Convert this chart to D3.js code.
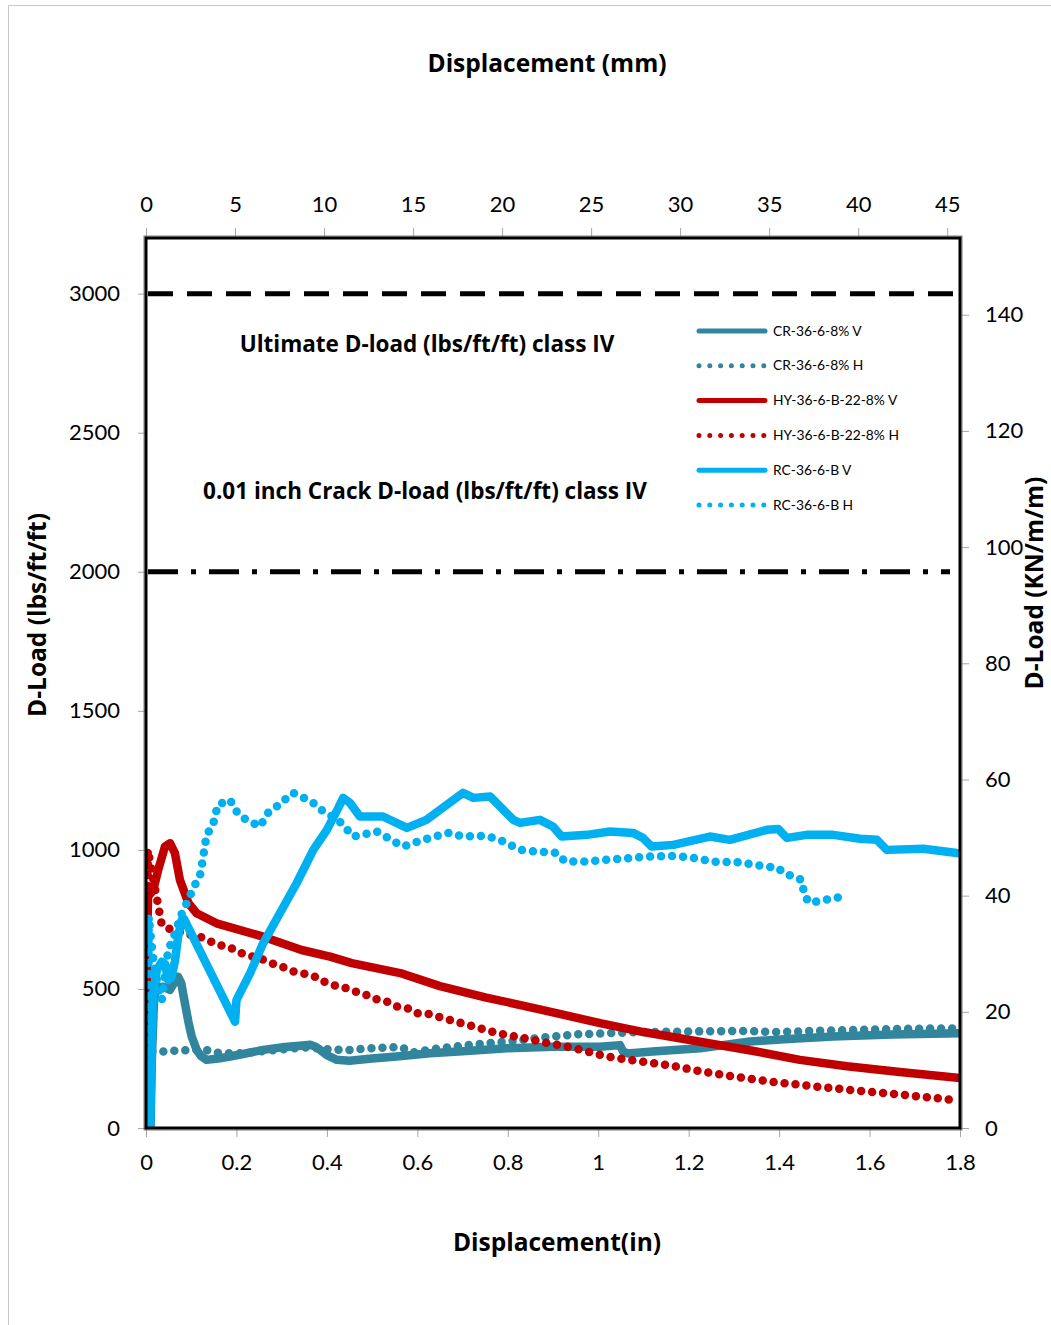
<!DOCTYPE html>
<html>
<head>
<meta charset="utf-8">
<script src="https://cdn.jsdelivr.net/npm/d3@7/dist/d3.min.js"></script>
<style>
  html, body { margin: 0; padding: 0; background: #fff; }
  svg { display: block; }
  text { font-family: Lato, "Open Sans", "DejaVu Sans", sans-serif; fill: #000; }
  .title { font-family: "Open Sans", Lato, sans-serif; font-weight: bold; }
</style>
</head>
<body>
<svg id="chart" width="1051" height="1325"></svg>
<script>
// Axis ticks
const xTicksIn = [0, 0.2, 0.4, 0.6, 0.8, 1, 1.2, 1.4, 1.6, 1.8];
const xTicksMm = [0, 5, 10, 15, 20, 25, 30, 35, 40, 45];
const yTicksLbs = [0, 500, 1000, 1500, 2000, 2500, 3000];
const yTicksKn = [0, 20, 40, 60, 80, 100, 120, 140];

// Class IV reference levels (lbs/ft/ft)
const ultimateLoad = 3000;
const crackLoad = 2000;

// Series: displacement (in) and D-load (lbs/ft/ft)
const seriesNames = ["CR-36-6-8% V", "CR-36-6-8% H", "HY-36-6-B-22-8% V", "HY-36-6-B-22-8% H", "RC-36-6-B V", "RC-36-6-B H"];

const crVx = [0.010,0.013,0.018,0.025,0.038,0.053,0.065,0.071,0.078,0.086,0.094,0.101,0.112,0.122,0.134,0.16,0.186,0.22,0.259,0.30,0.34,0.363,0.375,0.385,0.40,0.422,0.45,0.50,0.554,0.628,0.70,0.798,0.90,1.004,1.048,1.055,1.065,1.12,1.225,1.336,1.42,1.519,1.65,1.8];
const crVy = [0,250,470,505,508,497,530,544,520,449,380,329,281,258,245,250,257,268,281,290,296,299,292,281,262,245,242,250,257,269,276,287,292,292,298,275,268,275,287,311,320,329,336,341];

const crHx = [0.008,0.010,0.013,0.035,0.06,0.09,0.13,0.16,0.2,0.25,0.3,0.35,0.41,0.443,0.503,0.562,0.59,0.65,0.724,0.798,0.871,0.945,1.019,1.1,1.2,1.31,1.4,1.5,1.6,1.7,1.8];
const crHy = [0,140,275,275,278,280,282,270,268,275,282,290,282,280,287,292,272,287,300,311,324,336,341,345,347,349,345,350,354,357,358];

const hyVx = [0.001,0.002,0.003,0.0045,0.016,0.027,0.042,0.053,0.064,0.075,0.094,0.112,0.156,0.259,0.344,0.407,0.455,0.562,0.65,0.75,0.878,1.004,1.1,1.225,1.35,1.446,1.55,1.667,1.8];
const hyVy = [0,400,700,832,856,928,1012,1024,988,892,808,772,736,688,640,616,593,557,510,470,424,377,345,310,275,245,222,201,180];

const hyHx = [0.002,0.003,0.004,0.035,0.057,0.085,0.119,0.16,0.186,0.2,0.223,0.252,0.278,0.3,0.326,0.348,0.374,0.384,0.414,0.442,0.473,0.49,0.514,0.535,0.554,0.582,0.599,0.624,0.68,0.724,0.78,0.834,0.89,0.945,1.019,1.07,1.151,1.24,1.321,1.4,1.483,1.55,1.631,1.7,1.785];
const hyHy = [0,500,1000,730,712,700,688,658,650,635,622,610,592,580,563,556,544,532,514,503,485,477,460,453,437,429,413,410,385,365,340,324,305,288,257,245,227,200,180,163,149,138,126,115,101];

const rcVx = [0.009,0.012,0.015,0.024,0.035,0.042,0.049,0.056,0.064,0.071,0.079,0.084,0.197,0.2,0.23,0.259,0.296,0.333,0.37,0.4,0.425,0.436,0.451,0.473,0.524,0.577,0.62,0.701,0.724,0.761,0.783,0.812,0.827,0.871,0.9,0.919,0.975,1.026,1.077,1.099,1.118,1.166,1.247,1.291,1.373,1.398,1.417,1.461,1.52,1.579,1.616,1.638,1.719,1.793,1.8];
const rcVy = [0,233,473,568,598,590,532,540,600,688,748,752,382,460,556,664,772,880,1000,1072,1150,1187,1169,1120,1120,1079,1108,1205,1187,1192,1156,1108,1097,1108,1084,1048,1054,1066,1061,1043,1012,1018,1048,1036,1072,1075,1043,1054,1054,1040,1036,1000,1004,989,988];

const rcHx = [0.004,0.005,0.006,0.015,0.025,0.035,0.049,0.06,0.082,0.094,0.104,0.119,0.124,0.13,0.134,0.148,0.159,0.186,0.197,0.215,0.224,0.252,0.27,0.289,0.325,0.366,0.392,0.425,0.455,0.458,0.51,0.554,0.569,0.613,0.669,0.701,0.752,0.783,0.805,0.827,0.864,0.908,0.927,0.975,1.011,1.055,1.107,1.17,1.21,1.254,1.314,1.364,1.398,1.409,1.435,1.45,1.454,1.464,1.483,1.513,1.531];
const rcHy = [0,400,760,620,520,460,640,682,784,820,863,904,950,1012,1054,1090,1162,1180,1144,1115,1108,1084,1133,1156,1205,1174,1138,1108,1054,1048,1066,1025,1012,1036,1061,1048,1050,1036,1018,1000,994,989,958,958,964,968,976,978,971,958,955,942,935,917,903,892,854,813,814,824,829];

const seriesColors = ["#31859C", "#31859C", "#C00000", "#C00000", "#00B0F0", "#00B0F0"];
const seriesDotted = [false, true, false, true, false, true];
const seriesX = [crVx, crHx, hyVx, hyHx, rcVx, rcHx];
const seriesY = [crVy, crHy, hyVy, hyHy, rcVy, rcHy];

// Unit conversions for secondary axes
const IN_TO_MM = 25.4;
const LBS_TO_KN = 0.04788;

const svg = d3.select("#chart");
const plot = { left: 146, right: 960, top: 238, bottom: 1128 };

const x = d3.scaleLinear().domain([0, 1.8]).range([plot.left, plot.right]);
const xMm = d3.scaleLinear().domain([0, 1.8 * IN_TO_MM]).range([plot.left, plot.right]);
const y = d3.scaleLinear().domain([0, 3200]).range([plot.bottom, plot.top]);
const yKn = d3.scaleLinear().domain([0, 3200 * LBS_TO_KN]).range([plot.bottom, plot.top]);

// Outer chart-area frame
svg.append("path")
  .attr("d", "M8.5,1325 L8.5,5.5 L1051,5.5")
  .attr("fill", "none").attr("stroke", "#c8c8c8").attr("stroke-width", 1);

// Axes
function styleAxis(g, fontSize) {
  g.select(".domain").remove();
  g.selectAll(".tick line").attr("stroke", "#a6a6a6").attr("stroke-width", 1);
  g.selectAll(".tick text").style("font-size", fontSize + "px").style("font-family", "Lato, sans-serif");
}

svg.append("g").attr("transform", `translate(0,${plot.bottom})`)
  .call(d3.axisBottom(x).tickValues(xTicksIn).tickFormat(d3.format("")).tickSize(9).tickPadding(17))
  .call(g => styleAxis(g, 22));

svg.append("g").attr("transform", `translate(0,${plot.top})`)
  .call(d3.axisTop(xMm).tickValues(xTicksMm).tickFormat(d3.format("d")).tickSize(10).tickPadding(16))
  .call(g => styleAxis(g, 22));

svg.append("g").attr("transform", `translate(${plot.left},0)`)
  .call(d3.axisLeft(y).tickValues(yTicksLbs).tickFormat(d3.format("d")).tickSize(8).tickPadding(18))
  .call(g => styleAxis(g, 22));

svg.append("g").attr("transform", `translate(${plot.right},0)`)
  .call(d3.axisRight(yKn).tickValues(yTicksKn).tickFormat(d3.format("d")).tickSize(9).tickPadding(16))
  .call(g => styleAxis(g, 22));

// Class IV reference lines
svg.append("line")
  .attr("x1", plot.left + 2).attr("x2", plot.right - 5)
  .attr("y1", y(ultimateLoad)).attr("y2", y(ultimateLoad))
  .attr("stroke", "#000").attr("stroke-width", 5).attr("stroke-dasharray", "25,14");

svg.append("line")
  .attr("x1", plot.left + 2).attr("x2", plot.right - 10)
  .attr("y1", y(crackLoad)).attr("y2", y(crackLoad))
  .attr("stroke", "#000").attr("stroke-width", 5).attr("stroke-dasharray", "30,13,5,13");

svg.append("text").attr("class", "title").attr("x", 427).attr("y", 352).attr("text-anchor", "middle")
  .style("font-size", "22.5px")
  .text("Ultimate D-load (lbs/ft/ft) class IV");

svg.append("text").attr("class", "title").attr("x", 425).attr("y", 499).attr("text-anchor", "middle")
  .style("font-size", "22.5px")
  .text("0.01 inch Crack D-load (lbs/ft/ft) class IV");

// Data series
const clipId = "plotClip";
svg.append("clipPath").attr("id", clipId).append("rect")
  .attr("x", plot.left).attr("y", plot.top - 10)
  .attr("width", plot.right - plot.left).attr("height", plot.bottom - plot.top + 10);

const line = d3.line().x(d => x(d[0])).y(d => y(d[1]));
const seriesG = svg.append("g").attr("clip-path", `url(#${clipId})`);

seriesNames.forEach((name, i) => {
  const pts = seriesX[i].map((v, k) => [v, seriesY[i][k]]);
  const p = seriesG.append("path")
    .datum(pts)
    .attr("d", line)
    .attr("fill", "none")
    .attr("stroke", seriesColors[i])
    .attr("stroke-linecap", "round")
    .attr("stroke-linejoin", "round");
  if (seriesDotted[i]) {
    p.attr("stroke-width", 8.5).attr("stroke-dasharray", "0,11");
  } else {
    p.attr("stroke-width", 8.5);
  }
});

// Plot frame
svg.append("rect")
  .attr("x", plot.left - 2).attr("y", plot.top - 2)
  .attr("width", plot.right - plot.left + 4).attr("height", plot.bottom - plot.top + 4)
  .attr("fill", "none").attr("stroke", "#7f7f7f").attr("stroke-width", 1);
svg.append("rect")
  .attr("x", plot.left).attr("y", plot.top)
  .attr("width", plot.right - plot.left).attr("height", plot.bottom - plot.top)
  .attr("fill", "none").attr("stroke", "#000").attr("stroke-width", 3);

// Legend
const legend = svg.append("g");
const legendRowY = d => 331 + d * 34.8;
seriesNames.forEach((name, i) => {
  const ly = legendRowY(i);
  if (seriesDotted[i]) {
    legend.append("line")
      .attr("x1", 699).attr("x2", 764).attr("y1", ly).attr("y2", ly)
      .attr("stroke", seriesColors[i]).attr("stroke-width", 5)
      .attr("stroke-linecap", "round").attr("stroke-dasharray", "0,10.8");
  } else {
    legend.append("line")
      .attr("x1", 699).attr("x2", 765).attr("y1", ly).attr("y2", ly)
      .attr("stroke", seriesColors[i]).attr("stroke-width", 5)
      .attr("stroke-linecap", "round");
  }
  legend.append("text").attr("x", 773).attr("y", ly + 4.5)
    .style("font-size", "13.8px").text(name);
});

// Axis titles
svg.append("text").attr("class", "title").attr("x", 547).attr("y", 72).attr("text-anchor", "middle")
  .style("font-size", "24.5px").text("Displacement (mm)");

svg.append("text").attr("class", "title").attr("x", 557).attr("y", 1251).attr("text-anchor", "middle")
  .style("font-size", "24.5px").text("Displacement(in)");

svg.append("text").attr("class", "title").attr("transform", "translate(46,615) rotate(-90)").attr("text-anchor", "middle")
  .style("font-size", "24.5px").text("D-Load (lbs/ft/ft)");

svg.append("text").attr("class", "title").attr("transform", "translate(1043,583) rotate(-90)").attr("text-anchor", "middle")
  .style("font-size", "24.5px").text("D-Load (KN/m/m)");
</script>
</body>
</html>
